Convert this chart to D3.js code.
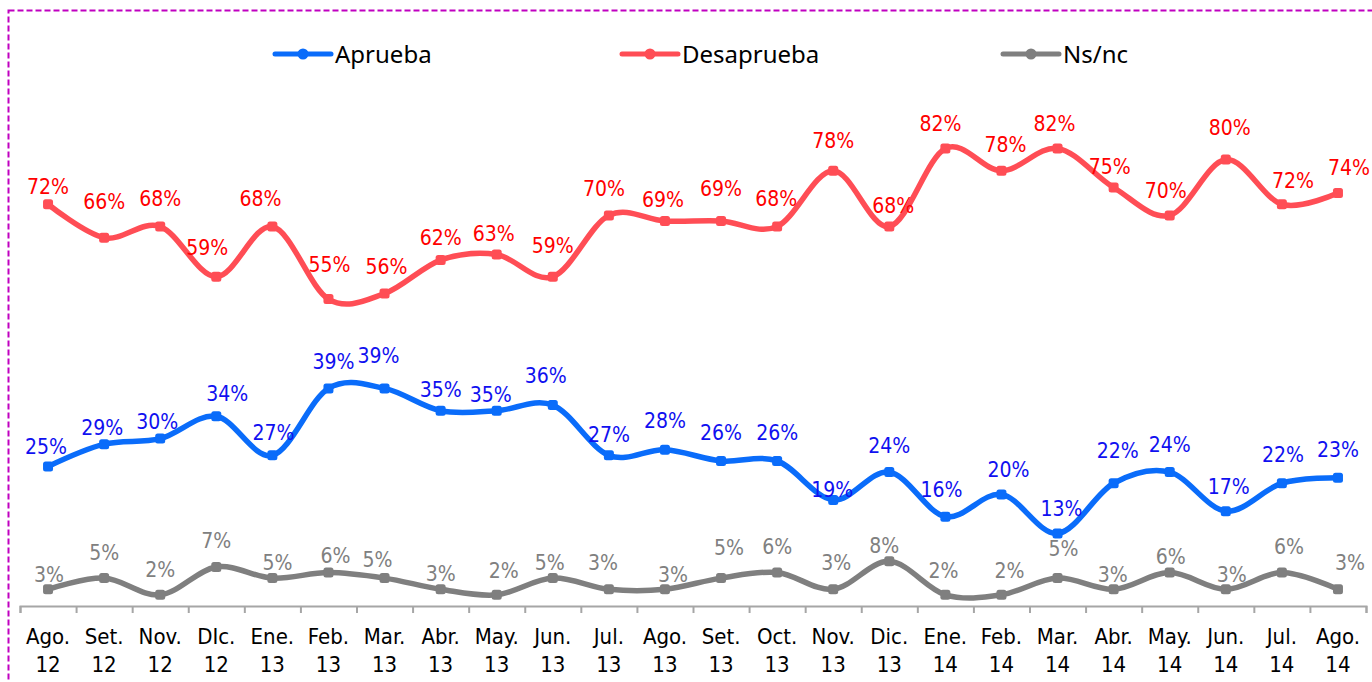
<!DOCTYPE html>
<html>
<head>
<meta charset="utf-8">
<script src="https://cdn.jsdelivr.net/npm/d3@7"></script>
<style>
  html, body { margin: 0; padding: 0; background: #fff; }
  svg { display: block; }
</style>
</head>
<body>
<svg id="chart" width="1372" height="682"></svg>
<script>
// Survey months (two-line tick labels: month / year)
const months = ["Ago.", "Set.", "Nov.", "DIc.", "Ene.", "Feb.", "Mar.", "Abr.", "May.", "Jun.", "Jul.", "Ago.",
                "Set.", "Oct.", "Nov.", "Dic.", "Ene.", "Feb.", "Mar.", "Abr.", "May.", "Jun.", "Jul.", "Ago."];
const years  = ["12", "12", "12", "12", "13", "13", "13", "13", "13", "13", "13", "13",
                "13", "13", "13", "13", "14", "14", "14", "14", "14", "14", "14", "14"];

// Percentages per survey
const aprueba    = [25, 29, 30, 34, 27, 39, 39, 35, 35, 36, 27, 28, 26, 26, 19, 24, 16, 20, 13, 22, 24, 17, 22, 23];
const desaprueba = [72, 66, 68, 59, 68, 55, 56, 62, 63, 59, 70, 69, 69, 68, 78, 68, 82, 78, 82, 75, 70, 80, 72, 74];
const nsnc       = [3, 5, 2, 7, 5, 6, 5, 3, 2, 5, 3, 3, 5, 6, 3, 8, 2, 2, 5, 3, 6, 3, 6, 3];

const seriesNames = ["Aprueba", "Desaprueba", "Ns/nc"];

// Hand placement of the value labels: [dx, lift above the point] in px
const apruebaLabelPos = [[-2,13],[-2,9],[-3,10],[11,15],[1,15],[5,19],[-6,25],[0,14],[-6,9],[-7,22],[0,13],[0,22],
                         [0,21],[0,21],[-1,3],[0,19],[-4,20],[7,17],[4,17],[4,25],[0,20],[3,17],[1,21],[0,21]];
const desapruebaLabelPos = [[0,10],[0,29],[0,21],[-9,22],[-12,21],[1,27],[2,20],[0,15],[-3,13],[0,24],[-5,19],[-2,14],
                            [0,25],[-1,21],[0,23],[4,14],[-5,17],[4,19],[-3,17],[-4,14],[-4,17],[4,25],[11,16],[11,18]];
const nsncLabelPos = [[1,7],[0,18],[0,18],[0,19],[5,8],[7,10],[-7,11],[0,8],[7,17],[-3,8],[-6,19],[8,7],
                      [8,23],[0,19],[3,19],[-5,8],[-2,17],[8,17],[6,22],[-1,7],[1,9],[6,7],[7,19],[12,19]];

const svg = d3.select("#chart");
const W = 1372, H = 682;

// dashed frame around the chart area
svg.append("rect")
  .attr("x", 8.5).attr("y", 10.5)
  .attr("width", W + 20).attr("height", H + 20)
  .attr("fill", "none")
  .attr("stroke", "#C000C0")
  .attr("stroke-width", 2)
  .attr("stroke-dasharray", "6,3");

const left = 20, right = 1366, baseY = 606, topY = 48;

const x = d3.scaleBand().domain(d3.range(months.length)).range([left, right]).padding(0);
const cx = i => x(i) + x.bandwidth() / 2;
const y = d3.scaleLinear().domain([0, 100]).range([baseY, topY]);

// x axis: baseline with ticks on category boundaries
const boundary = d3.scaleLinear().domain([0, months.length]).range([left, right]);
const axisG = svg.append("g")
  .attr("transform", `translate(0,${baseY})`)
  .call(d3.axisBottom(boundary).ticks(months.length).tickSizeInner(7).tickSizeOuter(7).tickFormat(""));
axisG.select(".domain").attr("stroke", "#A6A6A6").attr("stroke-width", 2);
axisG.selectAll(".tick line").attr("stroke", "#A6A6A6").attr("stroke-width", 2);

const catLabels = svg.append("g")
  .attr("font-family", "'DejaVu Sans Condensed', 'DejaVu Sans', sans-serif")
  .attr("font-size", 22)
  .attr("fill", "#000")
  .attr("text-anchor", "middle");
months.forEach((m, i) => {
  const t = catLabels.append("text").attr("x", cx(i)).attr("y", 644);
  t.append("tspan").attr("x", cx(i)).text(m);
  t.append("tspan").attr("x", cx(i)).attr("dy", 28).text(years[i]);
});

const series = [
  { name: seriesNames[0], values: aprueba,    line: "#0A6CFA", text: "#1010F0", pos: apruebaLabelPos },
  { name: seriesNames[1], values: desaprueba, line: "#FF4D55", text: "#FF0000", pos: desapruebaLabelPos },
  { name: seriesNames[2], values: nsnc,       line: "#7F7F7F", text: "#808080", pos: nsncLabelPos }
];

const lineGen = d3.line()
  .x((d, i) => cx(i))
  .y(d => y(d))
  .curve(d3.curveCardinal.tension(0));

series.forEach(s => {
  const g = svg.append("g");
  g.append("path")
    .datum(s.values)
    .attr("d", lineGen)
    .attr("fill", "none")
    .attr("stroke", s.line)
    .attr("stroke-width", 5.5)
    .attr("stroke-linejoin", "round")
    .attr("stroke-linecap", "round");
  g.selectAll("rect.mk")
    .data(s.values)
    .join("rect")
    .attr("class", "mk")
    .attr("x", (d, i) => cx(i) - 5)
    .attr("y", d => y(d) - 5)
    .attr("width", 10).attr("height", 10)
    .attr("rx", 2.5)
    .attr("fill", s.line);
  g.selectAll("text.val")
    .data(s.values)
    .join("text")
    .attr("class", "val")
    .attr("x", (d, i) => cx(i) + s.pos[i][0])
    .attr("y", (d, i) => y(d) - s.pos[i][1])
    .attr("text-anchor", "middle")
    .attr("font-family", "'DejaVu Sans Condensed', 'DejaVu Sans', sans-serif")
    .attr("font-size", 21)
    .attr("fill", s.text)
    .text(d => d + "%");
});

// legend
const legendX = [275, 622, 1003];
const legend = svg.append("g");
series.forEach((s, k) => {
  const lg = legend.append("g").attr("transform", `translate(${legendX[k]},54)`);
  lg.append("line").attr("x1", 0).attr("x2", 56).attr("y1", 0).attr("y2", 0)
    .attr("stroke", s.line).attr("stroke-width", 5).attr("stroke-linecap", "round");
  lg.append("circle").attr("cx", 28).attr("cy", 0).attr("r", 5.5).attr("fill", s.line);
  lg.append("text").attr("x", 60).attr("y", 8.5)
    .attr("font-family", "'Noto Sans', sans-serif")
    .attr("font-size", 24)
    .attr("fill", "#000")
    .text(s.name);
});
</script>
</body>
</html>
